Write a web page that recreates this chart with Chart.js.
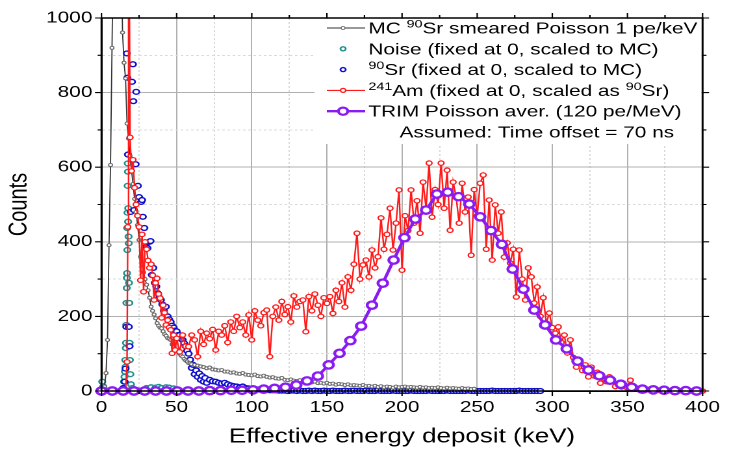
<!DOCTYPE html>
<html>
<head>
<meta charset="utf-8">
<script src="https://cdn.jsdelivr.net/npm/chart.js@4.4.0/dist/chart.umd.min.js"></script>
<style>
  html, body { margin: 0; padding: 0; background: #fff; overflow: hidden; }
  /* the figure is drawn narrow and stretched out to its final width */
  #wrap { width: 561px; height: 451px; transform: scaleX(1.2995); transform-origin: 0 0; }
</style>
</head>
<body>
<div id="wrap"><canvas id="spectrum" width="561" height="451"></canvas></div>
<script>
// ---- spectra (energy in keV, counts per bin) ----
const mcEnergy = [0,1,2,3,4,5,6,7,8,9,10,11,12,13,14,15,16,17,18,19,20,21,22,23,24,25,26,27,28,29,30,
  31,32,33,34,35,36,37,38,39,40,41,42,43,44,45,46,47,48,49,50,51,52,53,54,55,56,57,58,59,60,
  62,64,66,68,70,72,74,76,78,80,82,84,86,88,90,92,94,96,98,100,102,104,106,108,110,112,114,116,118,120,
  122,124,126,128,130,132,134,136,138,140,142,144,146,148,150,152,154,156,158,160,162,164,166,168,170,
  172,174,176,178,180,182,184,186,188,190,192,194,196,198,200,202,204,206,208,210,212,214,216,218,220,
  222,224,226,228,230,232,234,236,238,240,242,244,246,248];
const mcCounts = [0,10,12,48,137,391,606,920,1250,1500,1600,1550,1400,1200,961,880,838,717,677,630,590,
  555,515,480,445,405,360,340,318,300,285,270,250,226,215,205,195,182,175,170,168,160,152,148,142,140,
  137,125,118,112,108,105,100,95,92,86,82,79,75,74,72,
  70,68,66,64,61,63,58,57,55,56,52,52,49,50,47,46,48,44,43,42,44,40,39,41,38,36,37,34,33,35,
  30,29,31,28,27,29,25,26,24,23,25,21,22,20,22,19,20,17,19,18,16,18,15,16,15,
  14,16,13,14,12,14,11,13,10,12,11,9,12,10,11,12,10,11,10,9,11,9,10,8,9,
  8,10,8,7,9,7,8,7,6,8,6,7,5,6];

const noiseEnergy = [0.5,1.2,2.0,14.6,15.0,15.3,15.6,15.8,16.0,16.2,16.3,16.5,16.6,16.8,16.9,17.0,17.1,
  17.2,17.3,17.4,17.5,17.6,17.7,17.8,18.0,18.1,18.3,18.5,18.7,18.9,19.2,19.6,20.5,22,24,
  30,33,36,38,40,43,45,48,50];
const noiseCounts = [25,12,4,6,25,38,52,83,65,115,129,177,236,276,303,316,437,378,478,550,610,588,454,
  490,414,396,290,236,129,83,45,18,8,3,2,8,10,9,11,8,10,9,7,4];

const srEnergy = [14.5,15.4,16.0,16.5,16.8,17.2,17.6,18.2,18.7,19.4,20.3,20.9,21.2,21.6,22.7,23.1,24.2,
  25.0,26.4,27.0,27.5,28.5,29.7,30.6,31.9,32.6,33.5,34.5,35.5,36.5,37.5,38.5,39.5,40.5,41.5,42.8,
  44,45,46,47,48,49,50,51,52,53,54,55,56,57,58,59,60,61,62,63,64,65,66,67,68,69,70,
  72,74,76,78,80,82,84,86,88,90,92,94,96,98,100,102,104,106,108,110,112,114,116,118,120,
  122,124,126,128,130,132,134,136,138,140,142,144,146,148,150,152,154,156,158,160,162,164,166,168,170,
  172,174,176,178,180,182,184,186,188,190,192,194,196,198,200,202,204,206,208,210,212,214,216,218,220,
  222,224,226,228,230,232,234,236,238,240,242,244,246,248,250,252,254,256,258,260,262,264,266,268,270,
  272,274,276,278,280,282,284,286,288,290,292];
const srCounts = [8,25,60,172,905,840,634,172,120,480,829,876,777,485,608,802,550,520,507,512,467,437,
  387,383,400,402,311,330,290,280,262,250,244,232,215,226,
  200,192,185,175,170,162,160,150,150,140,137,128,120,108,100,84,62,70,45,55,38,47,30,40,25,35,22,
  30,26,25,22,20,22,18,15,13,12,10,12,8,7,6,5,4,4,3,3,2,2,2,1,1,
  1,0,1,1,0,1,0,0,1,0,1,0,0,1,0,0,1,0,0,0,1,0,0,1,0,0,0,1,0,0,
  0,1,0,0,0,0,1,0,0,0,0,0,1,0,0,0,0,0,1,0,0,0,0,0,1,0,0,0,0,0,
  0,1,0,0,0,0,0,0,0,1,0,0,0,0,0,0,0,0,1,0,0,0,0,0,0,0];

const amEnergy = [15,16,17,17.5,18,19,20,21,22,23,24,25,26,27,28,29,30,31,32,33,34,35,36,37,38,39,40,
  41,42,43,44,45,46,47,48,49,50,
  52,54,56,58,60,62,64,66,68,70,72,74,76,78,80,82,84,86,88,90,92,94,96,98,100,
  102,104,106,108,110,112,114,116,118,120,122,124,126,128,130,132,134,136,138,140,142,144,146,148,150,
  152,154,156,158,160,162,164,166,168,170,172,174,176,178,180,182,184,186,188,190,192,194,196,198,200,
  202,204,206,208,210,212,214,216,218,220,222,224,226,228,230,232,234,236,238,240,242,244,246,248,250,
  252,254,256,258,260,262,264,266,268,270,272,274,276,278,280,282,284,286,288,290,292,294,296,298,300,
  302,304,306,308,310,312,314,316,318,320,322,324,326,328,330,332,334,336,338,340,342,344,346,348,350,
  352,354,356,358,360,362,364,366,368,370,372,374,376,378,380,382,384,386,388,390,392,394,396,398,400];
const amCounts = [0,3,78,440,1500,680,590,620,545,500,470,440,297,420,266,400,380,350,330,340,310,244,
  290,302,260,249,196,230,210,177,190,170,164,101,150,110,141,
  105,150,120,119,150,137,92,160,125,155,140,165,110,160,150,175,130,185,160,200,170,185,150,204,137,
  215,190,175,210,217,92,200,225,190,240,205,226,185,255,225,240,244,159,253,215,260,230,200,250,235,
  253,208,270,240,290,225,306,270,340,423,300,338,351,306,378,330,360,464,380,420,490,378,450,539,324,
  470,430,539,450,510,423,560,490,611,466,540,500,611,490,592,431,560,520,450,557,480,520,364,540,470,
  557,579,380,512,351,499,423,480,359,397,343,380,252,378,300,244,330,306,236,279,200,250,182,209,170,
  155,172,130,150,102,137,90,64,83,55,70,38,64,40,50,21,35,25,38,28,12,20,11,15,8,
  29,6,8,3,6,2,4,2,1,3,1,0,2,1,0,1,0,1,0,1,0,0,1,0,0];

const trimEnergy = [0,7.2,14.4,21.6,28.8,36,43.2,50.4,57.6,64.8,72,79.2,86.4,93.6,100.8,108,115.2,122.4,
  129.6,136.8,144,151.2,158.4,165.6,172.8,180,187.2,194.4,201.6,208.8,216,223.2,230.4,237.6,244.8,252,
  259.2,266.4,273.6,280.8,288,295.2,302.4,309.6,316.8,324,331.2,338.4,345.6,352.8,360,367.2,374.4,
  381.6,388.8,396];
const trimCounts = [0,0,0,0,0,0,0,0,0,0,1,1,2,2,3,5,7,10,16,27,40,70,101,135,174,230,289,351,411,461,
  485,528,533,521,501,467,430,393,327,273,217,177,137,113,80,56,41,29,18,10,5,3,2,1,1,0];

const xTickLabels = [0, 50, 100, 150, 200, 250, 300, 350, 400];
const yTickLabels = [0, 200, 400, 600, 800, 1000];

const legendRows = [
  [["MC "], ["90", true], ["Sr smeared Poisson 1 pe/keV"]],
  [["Noise (fixed at 0, scaled to MC)"]],
  [["90", true], ["Sr (fixed at 0, scaled to MC)"]],
  [["241", true], ["Am (fixed at 0, scaled as "], ["90", true], ["Sr)"]],
  [["TRIM Poisson aver. (120 pe/MeV)"]]
];
const legendNote = "Assumed: Time offset = 70 ns";

const FONT = "'Liberation Sans', Arial, sans-serif";
const COLORS = {
  mc: "#333333",
  mcPoint: "#6a6a6a",
  noise: "#1f9090",
  sr: "#1010cc",
  am: "#ff1a1a",
  trim: "#8a1bf2"
};

function toPoints(xs, ys) {
  return xs.map((x, i) => ({ x, y: ys[i] }));
}

const plotClip = { left: 6, right: 6, top: 0, bottom: 8 };

// legend box, drawn over the grid in the upper right corner
const legendPlugin = {
  id: "spectrumLegend",
  afterDatasetsDraw(chart) {
    const { ctx, chartArea } = chart;
    ctx.save();
    ctx.fillStyle = "#fff";
    ctx.fillRect(242, chartArea.top + 1, chartArea.right - 242 - 1, 125);

    const symbols = [
      { line: COLORS.mc, lw: 0.9, r: 1.5, pw: 0.8, pc: COLORS.mcPoint },
      { line: null, r: 2, pw: 1.4, pc: COLORS.noise },
      { line: null, r: 2, pw: 1.4, pc: COLORS.sr },
      { line: COLORS.am, lw: 1.1, r: 2, pw: 1.2, pc: COLORS.am },
      { line: COLORS.trim, lw: 2.4, r: 3.6, pw: 2.2, pc: COLORS.trim }
    ];
    const x0 = 251.5, x1 = 281, xm = 264, xText = 283.5;
    legendRows.forEach((parts, i) => {
      const base = 33.5 + i * 20.8;
      const sy = base - 5.5;
      const s = symbols[i];
      if (s.line) {
        ctx.strokeStyle = s.line;
        ctx.lineWidth = s.lw;
        ctx.beginPath();
        ctx.moveTo(x0, sy);
        ctx.lineTo(x1, sy);
        ctx.stroke();
      }
      ctx.beginPath();
      ctx.arc(xm, sy, s.r, 0, Math.PI * 2);
      ctx.fillStyle = "#fff";
      ctx.fill();
      ctx.lineWidth = s.pw;
      ctx.strokeStyle = s.pc;
      ctx.stroke();

      let x = xText;
      ctx.fillStyle = "#000";
      ctx.textBaseline = "alphabetic";
      ctx.textAlign = "left";
      parts.forEach(([text, sup]) => {
        ctx.font = (sup ? "11px " : "16px ") + FONT;
        ctx.fillText(text, x, sup ? base - 6 : base);
        x += ctx.measureText(text).width;
      });
    });
    ctx.font = "16px " + FONT;
    ctx.fillText(legendNote, 307.5, 33.5 + 5 * 20.8);
    ctx.restore();
  }
};

// closed frame with outward ticks on all four sides
const framePlugin = {
  id: "frame",
  afterDraw(chart) {
    const { ctx, chartArea: a, scales } = chart;
    ctx.save();
    ctx.strokeStyle = "#000";
    ctx.lineWidth = 1.5;
    ctx.strokeRect(a.left, a.top, a.right - a.left, a.bottom - a.top);
    ctx.lineWidth = 1.1;
    ctx.beginPath();
    for (let v = 0; v <= 400; v += 25) {
      const x = scales.x.getPixelForValue(v);
      const len = v % 50 === 0 ? 5 : 3;
      ctx.moveTo(x, a.bottom); ctx.lineTo(x, a.bottom + len);
      ctx.moveTo(x, a.top); ctx.lineTo(x, a.top - len);
    }
    for (let v = 0; v <= 1000; v += 100) {
      const y = scales.y.getPixelForValue(v);
      const len = v % 200 === 0 ? 5 : 3;
      ctx.moveTo(a.left, y); ctx.lineTo(a.left - len, y);
      ctx.moveTo(a.right, y); ctx.lineTo(a.right + len, y);
    }
    ctx.stroke();
    ctx.restore();
  }
};

const gridColor = (ctx, major) => {
  if (!ctx.tick) return "#000";
  return major(ctx.tick.value) ? "#b0b0b0" : "#dadada";
};

new Chart(document.getElementById("spectrum"), {
  type: "line",
  data: {
    datasets: [
      {
        label: "MC 90Sr smeared Poisson 1 pe/keV",
        data: toPoints(mcEnergy, mcCounts),
        borderColor: COLORS.mc, borderWidth: 0.9,
        pointRadius: 1.5, pointBorderWidth: 0.9,
        pointBorderColor: COLORS.mcPoint, pointBackgroundColor: "#fff",
        clip: plotClip, order: 2
      },
      {
        label: "Noise (fixed at 0, scaled to MC)",
        data: toPoints(noiseEnergy, noiseCounts),
        showLine: false,
        pointRadius: 2.4, pointBorderWidth: 1.4,
        pointBorderColor: COLORS.noise, pointBackgroundColor: "#fff",
        clip: plotClip, order: 4
      },
      {
        label: "90Sr (fixed at 0, scaled to MC)",
        data: toPoints(srEnergy, srCounts),
        showLine: false,
        pointRadius: 2.4, pointBorderWidth: 1.4,
        pointBorderColor: COLORS.sr, pointBackgroundColor: "#fff",
        clip: plotClip, order: 3
      },
      {
        label: "241Am (fixed at 0, scaled as 90Sr)",
        data: toPoints(amEnergy, amCounts),
        borderColor: COLORS.am, borderWidth: 1.2,
        pointRadius: 2.2, pointBorderWidth: 1.2,
        pointBorderColor: COLORS.am, pointBackgroundColor: "#fff",
        clip: plotClip, order: 1
      },
      {
        label: "TRIM Poisson aver. (120 pe/MeV)",
        data: toPoints(trimEnergy, trimCounts),
        borderColor: COLORS.trim, borderWidth: 2.5,
        pointRadius: 3.7, pointBorderWidth: 2.3,
        pointBorderColor: COLORS.trim, pointBackgroundColor: "#fff",
        clip: plotClip, order: 0
      }
    ]
  },
  options: {
    responsive: false,
    devicePixelRatio: 2,
    animation: false,
    events: [],
    layout: { padding: { top: 18, right: 14.6, left: 0, bottom: 0 } },
    elements: { line: { tension: 0 } },
    plugins: { legend: { display: false }, tooltip: { enabled: false } },
    scales: {
      x: {
        type: "linear", min: 0, max: 400,
        afterFit: (s) => { s.height = 60; },
        ticks: {
          stepSize: 25, autoSkip: false, maxRotation: 0, padding: 7,
          color: "#000", font: { family: FONT, size: 16 },
          callback: (v) => (xTickLabels.includes(v) ? v : "")
        },
        grid: {
          drawTicks: false, lineWidth: 1,
          color: (ctx) => gridColor(ctx, (v) => v % 50 === 0)
        },
        border: {
          display: true, color: "#000", width: 1.5,
          dash: (ctx) => (ctx.tick && ctx.tick.value % 50 !== 0 ? [2, 2] : [])
        },
        title: {
          display: true, text: "Effective energy deposit (keV)", color: "#000",
          font: { family: FONT, size: 20 }, padding: { top: 0, bottom: 2 }
        }
      },
      y: {
        min: 0, max: 1000,
        afterFit: (s) => { s.width = 78.1; },
        ticks: {
          stepSize: 100, autoSkip: false, padding: 7,
          color: "#000", font: { family: FONT, size: 16 },
          callback: (v) => (yTickLabels.includes(v) ? v : "")
        },
        grid: {
          drawTicks: false, lineWidth: 1,
          color: (ctx) => gridColor(ctx, (v) => v % 200 === 0)
        },
        border: {
          display: true, color: "#000", width: 1.5,
          dash: (ctx) => (ctx.tick && ctx.tick.value % 200 !== 0 ? [2, 2] : [])
        },
        title: {
          display: true, text: "Counts", color: "#000",
          font: { family: FONT, size: 20 }, padding: { top: 3, bottom: 0 }
        }
      }
    }
  },
  plugins: [legendPlugin, framePlugin]
});
</script>
</body>
</html>
